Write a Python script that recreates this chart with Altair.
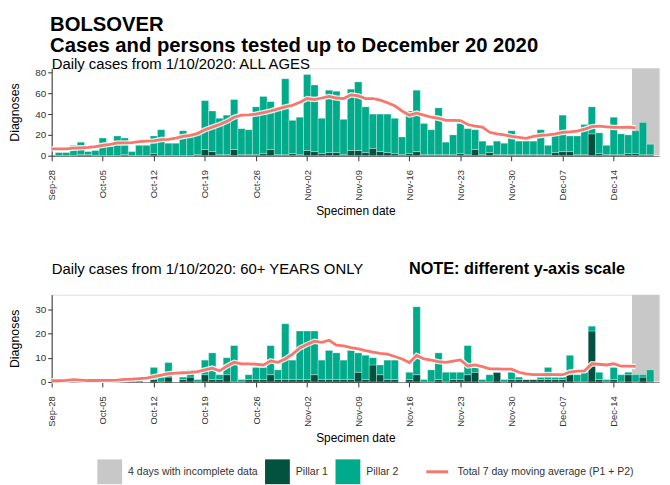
import altair as alt
import pandas as pd

# ---------------- data ----------------
# day index 0 = Sep-28-2020
tick_labels = ["Sep-28", "Oct-05", "Oct-12", "Oct-19", "Oct-26", "Nov-02", "Nov-09",
               "Nov-16", "Nov-23", "Nov-30", "Dec-07", "Dec-14", "Dec-21"]
bar_days = list(range(1, 84))          # Sep-29 .. Dec-20
ma_days = list(range(0, 81))           # Sep-28 .. Dec-16
incomplete_days = [80, 81, 82, 83]     # Dec-17 .. Dec-20

# ALL AGES
top_p1 = [0, 0, 0, 1, 1, 0, 0, 0, 0, 1,
          0, 0, 0, 2, 0, 0, 0, 0, 0, 1,
          6, 4, 1, 1, 6, 1, 1, 1, 2, 6,
          1, 1, 2, 1, 5, 4, 2, 3, 3, 1,
          5, 5, 3, 7, 4, 3, 2, 1, 2, 4,
          1, 1, 1, 1, 1, 2, 1, 6, 1, 3,
          1, 1, 1, 1, 1, 1, 1, 1, 3, 4,
          4, 1, 1, 21, 2, 1, 1, 1, 2, 2,
          1, 1, 0]
top_p2 = [3, 3, 10, 12, 3, 5, 17, 9, 19, 16,
          4, 10, 10, 17, 25, 12, 12, 24, 19, 19,
          47, 39, 35, 38, 48, 25, 24, 46, 55, 46,
          44, 73, 32, 36, 73, 64, 34, 60, 59, 34,
          59, 66, 44, 33, 36, 37, 34, 17, 41, 59,
          30, 24, 45, 12, 19, 29, 25, 19, 13, 7,
          13, 11, 23, 13, 13, 13, 24, 9, 17, 35,
          15, 18, 29, 26, 20, 9, 36, 20, 18, 22,
          31, 10, 0]
top_ma = [6.6, 6.6, 6.6, 7.2, 7.6, 8.0, 8.8, 10.0, 11.0, 12.3,
          12.3, 12.5, 13.5, 14.0, 14.2, 15.5, 15.8, 17.0, 18.5, 19.5,
          21.5, 25.0, 27.5, 30.0, 33.0, 37.0, 39.0, 39.3, 40.0, 41.5,
          43.0, 45.0, 47.0, 48.5, 51.5, 55.0, 54.0, 55.5, 57.0, 55.5,
          55.0, 58.5, 57.5, 55.0, 55.0, 53.5, 51.0, 48.0, 43.0, 39.0,
          41.0, 39.0, 37.0, 36.0, 34.0, 34.0, 33.8, 30.0, 28.5, 27.5,
          22.5, 21.0, 20.0, 18.5, 17.7, 16.7, 18.5, 19.5, 20.0, 21.0,
          22.4, 23.0, 23.7, 25.5, 28.0, 28.5, 27.8, 27.2, 27.2, 27.4,
          26.8]

# 60+ YEARS ONLY
bot_p1 = [0, 0, 0, 0, 0, 0, 0, 0, 0, 0,
          0, 0, 0, 1, 0, 2, 0, 1, 2, 0,
          3, 1, 1, 3, 0, 0, 1, 1, 1, 3,
          1, 1, 1, 1, 1, 3, 1, 1, 1, 1,
          1, 4, 1, 7, 3, 1, 1, 0, 1, 3,
          0, 0, 1, 0, 1, 1, 3, 4, 0, 0,
          4, 0, 1, 1, 1, 1, 1, 1, 1, 1,
          3, 0, 0, 21, 1, 0, 1, 0, 3, 0,
          2, 0, 0]
bot_p2 = [0, 0, 0, 0, 0, 0, 0, 0, 0, 0,
          1, 1, 0, 5, 2, 6, 0, 1, 3, 1,
          6, 11, 2, 7, 15, 1, 2, 5, 5, 12,
          4, 23, 8, 20, 20, 18, 8, 12, 11, 8,
          12, 8, 10, 3, 4, 8, 8, 0, 3, 28,
          1, 5, 11, 4, 3, 3, 12, 2, 1, 3,
          0, 1, 3, 1, 0, 0, 1, 5, 1, 1,
          8, 3, 4, 2, 3, 1, 5, 3, 1, 3,
          1, 5, 0]
bot_ma = [0.5, 0.5, 0.7, 1.0, 0.8, 0.6, 0.6, 0.7, 0.7, 0.8,
          1.1, 1.2, 1.4, 1.6, 2.2, 2.8, 3.4, 3.6, 3.8, 4.0,
          4.3, 5.0, 5.7, 4.6, 6.5, 8.1, 7.5, 7.5, 7.3, 7.0,
          8.7, 8.1, 9.5, 11.5, 14.0, 15.5, 16.8, 16.3, 17.2, 15.2,
          14.9, 14.2, 13.6, 12.9, 12.3, 11.8, 11.5, 10.5, 9.5, 8.0,
          10.9, 9.5, 9.0, 8.4, 8.1, 8.6, 9.1, 6.6, 7.0, 6.3,
          5.4, 5.4, 5.3, 5.3, 4.0, 3.3, 3.0, 3.0, 3.1, 3.0,
          3.0, 4.1, 4.5, 4.6, 7.5, 7.3, 7.0, 7.5, 6.5, 6.5,
          6.4]

series_names = ["4 days with incomplete data", "Pillar 1", "Pillar 2"]
series_colors = ["#c8c8c8", "#03513f", "#00ab8b"]
ma_name = "Total 7 day moving average (P1 + P2)"
ma_color = "#f8766d"

FONT = "Liberation Sans"
X_MAX = 83.2
PLOT_W = 612
PLOT_H = 88


def bar_frame(p1, p2):
    rows = []
    for d, a, b in zip(bar_days, p1, p2):
        rows.append({"x0": d - 0.5, "x1": d + 0.5, "y0": 0, "y1": a, "series": "Pillar 1"})
        rows.append({"x0": d - 0.5, "x1": d + 0.5, "y0": a, "y1": a + b, "series": "Pillar 2"})
    return pd.DataFrame(rows)


label_expr = "[" + ",".join("'%s'" % t for t in tick_labels) + "][round(datum.value / 7)]"

fill_legend = alt.Legend(title=None, orient="none", legendX=46, legendY=394,
                         direction="horizontal", symbolType="square", symbolSize=625,
                         symbolStrokeWidth=0, labelFontSize=10.6, labelFont=FONT,
                         labelColor="#333333", columnPadding=7, labelOffset=6, padding=0,
                         labelLimit=400)
stroke_legend = alt.Legend(title=None, orient="none", legendX=376, legendY=394,
                           symbolType="stroke", symbolSize=484, symbolStrokeWidth=3,
                           labelFontSize=10.6, labelFont=FONT, labelColor="#333333",
                           labelOffset=8, padding=0, labelLimit=400)


def panel(p1, p2, ma, ymax, yticks):
    xscale = alt.Scale(domain=[0, X_MAX], nice=False, zero=False)
    yscale = alt.Scale(domain=[0, ymax], nice=False)
    xaxis = alt.Axis(values=[7 * i for i in range(len(tick_labels))], labelExpr=label_expr,
                     labelAngle=270, title="Specimen date", grid=False,
                     labelFontSize=9.5, labelColor="#333333", titleFontSize=12,
                     titleFontWeight="normal", titleColor="#000000", tickSize=5,
                     domainColor="#333333", tickColor="#333333", labelPadding=9,
                     titlePadding=6)
    yaxis = alt.Axis(values=yticks, title="Diagnoses", grid=False, labelFontSize=10,
                     labelColor="#333333", titleFontSize=12.5, titleFontWeight="normal",
                     titleColor="#000000", tickSize=4, domainColor="#333333",
                     tickColor="#333333", labelPadding=2, titlePadding=13)
    fill = alt.Fill("series:N", scale=alt.Scale(domain=series_names, range=series_colors),
                    legend=fill_legend)

    gray = pd.DataFrame({"x0": [incomplete_days[0] - 0.5], "x1": [incomplete_days[-1] + 0.5],
                         "y0": [0], "y1": [ymax], "series": [series_names[0]]})
    gray_layer = alt.Chart(gray).mark_rect(clip=True).encode(
        x=alt.X("x0:Q", scale=xscale, axis=xaxis), x2="x1:Q",
        y=alt.Y("y0:Q", scale=yscale, axis=yaxis), y2="y1:Q", fill=fill)

    bars = alt.Chart(bar_frame(p1, p2)).mark_rect(
        stroke="#ffffff", strokeWidth=0.5, strokeOpacity=0.6).encode(
        x=alt.X("x0:Q", scale=xscale, axis=xaxis), x2="x1:Q",
        y=alt.Y("y0:Q", scale=yscale, axis=yaxis), y2="y1:Q", fill=fill)

    ma_df = pd.DataFrame({"day": ma_days, "ma": ma, "series": ma_name})
    halo = alt.Chart(ma_df).mark_line(color="#ffffff", strokeWidth=5.5, opacity=0.85).encode(
        x=alt.X("day:Q", scale=xscale, axis=xaxis), y=alt.Y("ma:Q", scale=yscale, axis=yaxis))
    line = alt.Chart(ma_df).mark_line(strokeWidth=2.8).encode(
        x=alt.X("day:Q", scale=xscale, axis=xaxis), y=alt.Y("ma:Q", scale=yscale, axis=yaxis),
        stroke=alt.Stroke("series:N", scale=alt.Scale(domain=[ma_name], range=[ma_color]),
                          legend=stroke_legend))
    return alt.layer(gray_layer, bars, halo, line).properties(width=PLOT_W, height=PLOT_H)


top = panel(top_p1, top_p2, top_ma, 84, [0, 20, 40, 60, 80]).properties(
    title=alt.TitleParams("Daily cases from 1/10/2020: ALL AGES", anchor="start",
                          frame="group", fontSize=15, fontWeight="normal", font=FONT,
                          color="#000000", offset=-4))

bottom_base = panel(bot_p1, bot_p2, bot_ma, 36, [0, 10, 20, 30])
sub_df = pd.DataFrame({"t": ["Daily cases from 1/10/2020: 60+ YEARS ONLY"]})
note_df = pd.DataFrame({"t": ["NOTE: different y-axis scale"]})
sub_text = alt.Chart(sub_df).mark_text(
    align="left", baseline="alphabetic", fontSize=15, font=FONT, color="#000000").encode(
    text="t:N", x=alt.value(0), y=alt.value(-21))
note_text = alt.Chart(note_df).mark_text(
    align="left", baseline="alphabetic", fontSize=16.4, fontWeight="bold", font=FONT,
    color="#000000").encode(text="t:N", x=alt.value(360), y=alt.value(-21))
bottom = alt.layer(bottom_base, sub_text, note_text)

chart = alt.vconcat(top, bottom, spacing=42).properties(
    padding={"left": 0, "top": 4, "right": 0, "bottom": 0},
    title=alt.TitleParams("BOLSOVER", subtitle="Cases and persons tested up to December 20 2020",
                          anchor="start", fontSize=20.4, subtitleFontSize=20.4,
                          fontWeight="bold", subtitleFontWeight="bold", font=FONT,
                          subtitleFont=FONT, color="#000000", subtitleColor="#000000",
                          subtitlePadding=1, dx=42, offset=0)
).resolve_scale(fill="shared", stroke="shared").configure_view(stroke=None).configure(
    font=FONT)

chart.save("out.html", embed_options={"renderer": "svg", "actions": False})
